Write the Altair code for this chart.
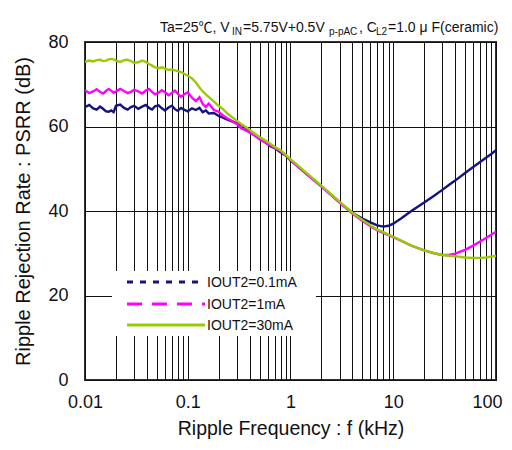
import altair as alt
import pandas as pd

# ---------------- data ----------------
freq_khz = [0.010, 0.011, 0.012, 0.013, 0.014, 0.015, 0.016, 0.017, 0.018, 0.019,
            0.020, 0.022, 0.024, 0.026, 0.028, 0.030, 0.033, 0.036, 0.039, 0.042,
            0.045, 0.048, 0.052, 0.056, 0.060, 0.065, 0.070, 0.075, 0.080, 0.086,
            0.092, 0.10, 0.11, 0.12, 0.13, 0.14, 0.15, 0.16, 0.18, 0.20,
            0.22, 0.24, 0.27, 0.30, 0.33, 0.36, 0.40, 0.45, 0.50, 0.56,
            0.63, 0.70, 0.80, 0.90, 1.0, 1.2, 1.4, 1.6, 1.8, 2.0,
            2.5, 3.0, 3.5, 4.0, 5.0, 6.0, 7.0, 8.0, 9.0, 10,
            12, 15, 20, 25, 30, 35, 40, 50, 60, 70,
            80, 90, 100]

psrr_01ma = [64.6, 65.1, 64.3, 64.0, 64.7, 64.2, 63.6, 63.5, 63.8, 63.4,
             64.9, 65.2, 64.4, 64.0, 64.6, 64.9, 64.2, 64.7, 65.1, 64.4,
             64.0, 64.8, 65.0, 64.3, 63.8, 64.5, 64.9, 64.1, 63.7, 64.4,
             64.0, 63.6, 64.3, 63.9, 64.4, 63.4, 63.8, 63.1, 63.2, 62.5,
             62.1, 61.7, 61.2, 60.8, 60.4, 59.8, 58.8, 58.2, 57.2, 56.5,
             55.4, 54.9, 53.9, 53.1, 52.0, 50.4, 49.0, 47.8, 46.8, 45.9,
             43.8, 42.1, 40.7, 39.6, 38.2, 37.3, 36.6, 36.3, 36.5, 37.0,
             38.3, 40.0, 42.0, 43.6, 45.0, 46.2, 47.2, 49.0, 50.4, 51.6,
             52.6, 53.5, 54.4]

psrr_1ma = [68.6, 67.9, 68.3, 68.8, 68.2, 67.8, 68.4, 68.9, 68.5, 68.0,
            68.3, 68.9, 68.4, 67.9, 68.2, 68.7, 68.3, 67.8, 68.5, 68.9,
            68.2, 67.6, 68.0, 68.6, 68.1, 67.4, 67.9, 68.5, 67.8, 67.0,
            67.6, 68.1, 66.8, 66.0, 66.9, 65.3, 64.6, 65.4, 63.9, 63.5,
            62.6, 62.0, 61.3, 60.6, 59.6, 59.2, 58.6, 57.8, 57.0, 56.3,
            55.6, 55.0, 54.2, 53.2, 52.1, 50.4, 49.0, 47.8, 46.7, 45.8,
            43.7, 42.0, 40.6, 39.4, 37.7, 36.4, 35.4, 34.8, 34.3, 33.8,
            32.9, 31.8, 30.7, 30.0, 29.6, 29.6, 29.9, 30.8, 31.8, 32.8,
            33.6, 34.4, 35.1]

psrr_30ma = [75.3, 75.6, 75.4, 75.7, 75.8, 75.5, 75.6, 75.9, 76.0, 75.9,
             75.6, 75.3, 75.7, 75.8, 75.5, 75.1, 75.2, 75.6, 75.3, 74.8,
             74.4, 74.0, 73.8, 74.0, 73.7, 73.4, 73.5, 73.3, 73.1, 72.9,
             72.5, 72.0, 71.4, 70.4, 69.2, 68.3, 67.6, 67.0, 65.9, 64.9,
             64.1, 63.2, 62.2, 61.4, 60.6, 60.0, 59.2, 58.3, 57.5, 56.8,
             56.0, 55.2, 54.4, 53.3, 52.3, 50.6, 49.2, 48.0, 46.9, 46.0,
             43.9, 42.2, 40.8, 39.6, 37.9, 36.6, 35.6, 35.0, 34.4, 33.9,
             33.0, 31.8, 30.7, 30.0, 29.6, 29.4, 29.3, 29.0, 28.9, 28.9,
             29.0, 29.2, 29.4]

series_names = ["IOUT2=0.1mA", "IOUT2=1mA", "IOUT2=30mA"]
series_colors = ["#14147f", "#ff00ff", "#99cc00"]
legend_dashes = [[6, 7], [15, 10], [1, 0]]

x_decades = [0.01, 0.1, 1, 10, 100]
x_grid = [round(d * 10 ** e, 4) for e in range(-2, 2) for d in range(1, 10)] + [100]
y_ticks = [0, 20, 40, 60, 80]

# ---------------- build table ----------------
rows = []
for name, vals in zip(series_names, [psrr_01ma, psrr_1ma, psrr_30ma]):
    for f, v in zip(freq_khz, vals):
        rows.append({"f": f, "psrr": v, "series": name})
df = pd.DataFrame(rows)

FONT = "Liberation Sans, Noto Sans CJK JP, sans-serif"

lines = alt.Chart(df).mark_line(strokeWidth=2.4, clip=True).encode(
    x=alt.X("f:Q",
            scale=alt.Scale(type="log", domain=[0.01, 100]),
            axis=alt.Axis(values=x_grid, grid=True, gridColor="#111", gridWidth=1,
                          ticks=False, domain=False, labelOverlap=False, labelFlush=False,
                          labelExpr="indexof([0.01,0.1,1,10,100], datum.value) >= 0 ? format(datum.value, '~g') : ''",
                          labelAlign={"condition": {"test": "datum.value >= 100", "value": "right"},
                                      "value": "center"},
                          labelOffset={"condition": {"test": "datum.value >= 100", "value": 6},
                                       "value": 0},
                          labelFontSize=18, labelColor="#111", labelPadding=13,
                          title="Ripple Frequency : f (kHz)", titleFontSize=19.5,
                          titleFontWeight="normal", titleColor="#111", titlePadding=8)),
    y=alt.Y("psrr:Q",
            scale=alt.Scale(domain=[0, 80]),
            axis=alt.Axis(values=y_ticks, grid=True, gridColor="#111", gridWidth=1,
                          ticks=False, domain=False,
                          labelFontSize=18, labelColor="#111", labelPadding=17,
                          title="Ripple Rejection Rate : PSRR (dB)", titleFontSize=20,
                          titleFontWeight="normal", titleColor="#111", titlePadding=14)),
    color=alt.Color("series:N", scale=alt.Scale(domain=series_names, range=series_colors),
                    legend=None),
)

layers = [lines]

# legend box (white background inside the plot)
one = pd.DataFrame({"a": [0]})
layers.append(alt.Chart(one).mark_rect(fill="white").encode(
    x=alt.value(27), x2=alt.value(231), y=alt.value(229), y2=alt.value(294)))

leg_y = [240, 262, 283]
for name, col, dash, ly in zip(series_names, series_colors, legend_dashes, leg_y):
    layers.append(alt.Chart(one).mark_rule(color=col, strokeWidth=3, strokeDash=dash).encode(
        x=alt.value(42), x2=alt.value(120), y=alt.value(ly)))
    layers.append(alt.Chart(one).mark_text(text=name, align="left", baseline="middle",
                                           fontSize=14, font=FONT, color="#111").encode(
        x=alt.value(122), y=alt.value(ly + 1)))

# condition header with subscripts
title_parts = [
    ("Ta=25℃, V", 75, -10, 14),
    ("IN", 147, -7, 10),
    ("=5.75V+0.5V", 158, -10, 14),
    ("p-pAC", 244, -7, 10),
    (", C", 274, -10, 14),
    ("L2", 291, -7, 10),
    ("=1.0 μ F(ceramic)", 303, -10, 14),
]
for txt, tx, ty, fs in title_parts:
    layers.append(alt.Chart(one).mark_text(text=txt, align="left", baseline="alphabetic",
                                           fontSize=fs, font=FONT, color="#111").encode(
        x=alt.value(tx), y=alt.value(ty)))

chart = alt.layer(*layers).properties(
    width=411, height=338,
    autosize=alt.AutoSizeParams(type="none"),
    padding={"left": 77, "top": 34, "right": 8, "bottom": 62},
    background="white",
).configure_view(stroke="#333", strokeWidth=2).configure_axis(
    labelFont=FONT, titleFont=FONT
)

chart.save("out.html", embed_options={"renderer": "svg", "actions": False})
